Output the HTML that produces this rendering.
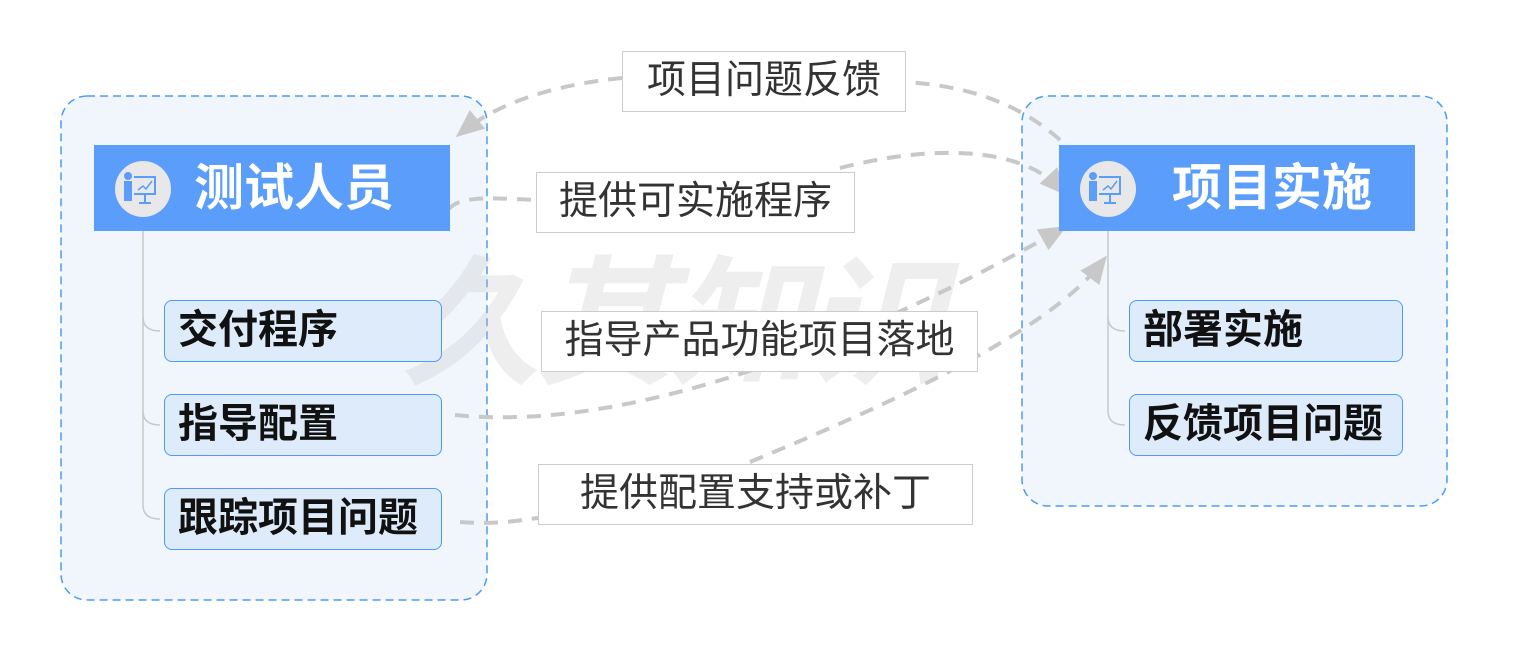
<!DOCTYPE html>
<html><head><meta charset="utf-8"><style>
body{margin:0;width:1515px;height:663px;background:#fff;position:relative;overflow:hidden;font-family:"Liberation Sans","Noto Sans CJK SC",sans-serif}
.abs{position:absolute;box-sizing:border-box}
.hdr{background:#5a9dfb;color:#fff;font-weight:bold;font-size:50px;line-height:86px}
.ch{background:#deebfb;border:1.5px solid #4a9cf5;border-radius:8px;font-weight:bold;font-size:40px;line-height:59px;padding-left:13px;color:#111}
.lbl{background:#fff;border:1.5px solid #ccc;font-size:39px;color:#333;text-align:center;line-height:58px}
.wm{color:rgba(195,195,195,0.28);font-size:140px;font-weight:bold;letter-spacing:-5px;line-height:140px}
</style></head><body>
<svg class="abs" style="left:0;top:0" width="1515" height="663">
<rect x="61" y="96" width="426" height="504" rx="26" fill="#f1f6fd" stroke="#4a9cf5" stroke-width="1.5" stroke-dasharray="8 5"/>
<rect x="1022" y="96" width="425" height="410" rx="26" fill="#f1f6fd" stroke="#4a9cf5" stroke-width="1.5" stroke-dasharray="8 5"/>
</svg>
<div class="abs wm" style="left:400px;top:255px;width:760px;font-style:italic">久其知识</div>
<svg class="abs" style="left:0;top:0" width="1515" height="663">
<defs><marker id="b" markerWidth="30" markerHeight="30" refX="20" refY="15" orient="auto" markerUnits="userSpaceOnUse"><path d="M0,3 L28,15 L0,27 z" fill="#c8c8c8"/></marker></defs>
<g stroke="#c8c8c8" stroke-width="1.5" fill="none">
<path d="M143,231 V505 Q143,519 160,519"/><path d="M143,317 Q143,331 160,331"/><path d="M143,411 Q143,425 160,425"/>
<path d="M1108,231 V411 Q1108,425 1125,425"/><path d="M1108,317 Q1108,331 1125,331"/>
</g>
<g fill="none" stroke="#c8c8c8" stroke-width="4" stroke-dasharray="14 10">
<path d="M1060,140 C1010,95 950,85 906,82"/>
<path d="M622,78 C550,85 495,105 462,132" marker-end="url(#b)"/>
<path d="M448,210 C460,195 490,198 536,200"/>
<path d="M840,168 C930,145 1020,145 1062,190" marker-end="url(#b)"/>
<path d="M455,415 C650,435 900,320 1060,230" marker-end="url(#b)"/>
<path d="M460,522 C500,525 520,520 538,518"/>
<path d="M750,462 C900,400 1050,330 1102,262" marker-end="url(#b)"/>
</g>
</svg>
<div class="abs hdr" style="left:94px;top:145px;width:356px;height:86px;padding-left:100px">测试人员</div>
<div class="abs hdr" style="left:1059px;top:145px;width:356px;height:86px;padding-left:113px">项目实施</div>
<svg class="abs" style="left:114px;top:160px" width="58" height="58"><circle cx="29" cy="29" r="28" fill="#e8e8ea"/><g fill="#5a9dfb"><circle cx="14" cy="16" r="4"/><rect x="10" y="21" width="8" height="20"/><rect x="20" y="16" width="22" height="2"/><rect x="20" y="33" width="22" height="2"/><rect x="40" y="16" width="2" height="19"/><rect x="30" y="35" width="2" height="8"/><rect x="25" y="42" width="12" height="2"/></g><path d="M24,30 L29,26 L32,29 L38,21" stroke="#5a9dfb" stroke-width="1.5" fill="none"/></svg>
<svg class="abs" style="left:1079px;top:160px" width="58" height="58"><circle cx="29" cy="29" r="28" fill="#e8e8ea"/><g fill="#5a9dfb"><circle cx="14" cy="16" r="4"/><rect x="10" y="21" width="8" height="20"/><rect x="20" y="16" width="22" height="2"/><rect x="20" y="33" width="22" height="2"/><rect x="40" y="16" width="2" height="19"/><rect x="30" y="35" width="2" height="8"/><rect x="25" y="42" width="12" height="2"/></g><path d="M24,30 L29,26 L32,29 L38,21" stroke="#5a9dfb" stroke-width="1.5" fill="none"/></svg>
<div class="abs ch" style="left:164px;top:300px;width:278px;height:62px">交付程序</div>
<div class="abs ch" style="left:164px;top:394px;width:278px;height:62px">指导配置</div>
<div class="abs ch" style="left:164px;top:488px;width:278px;height:62px">跟踪项目问题</div>
<div class="abs ch" style="left:1129px;top:300px;width:274px;height:62px">部署实施</div>
<div class="abs ch" style="left:1129px;top:394px;width:274px;height:62px">反馈项目问题</div>
<div class="abs lbl" style="left:622px;top:51px;width:284px;height:61px">项目问题反馈</div>
<div class="abs lbl" style="left:536px;top:172px;width:319px;height:61px">提供可实施程序</div>
<div class="abs lbl" style="left:541px;top:311px;width:437px;height:61px">指导产品功能项目落地</div>
<div class="abs lbl" style="left:538px;top:464px;width:435px;height:61px">提供配置支持或补丁</div>
</body></html>
